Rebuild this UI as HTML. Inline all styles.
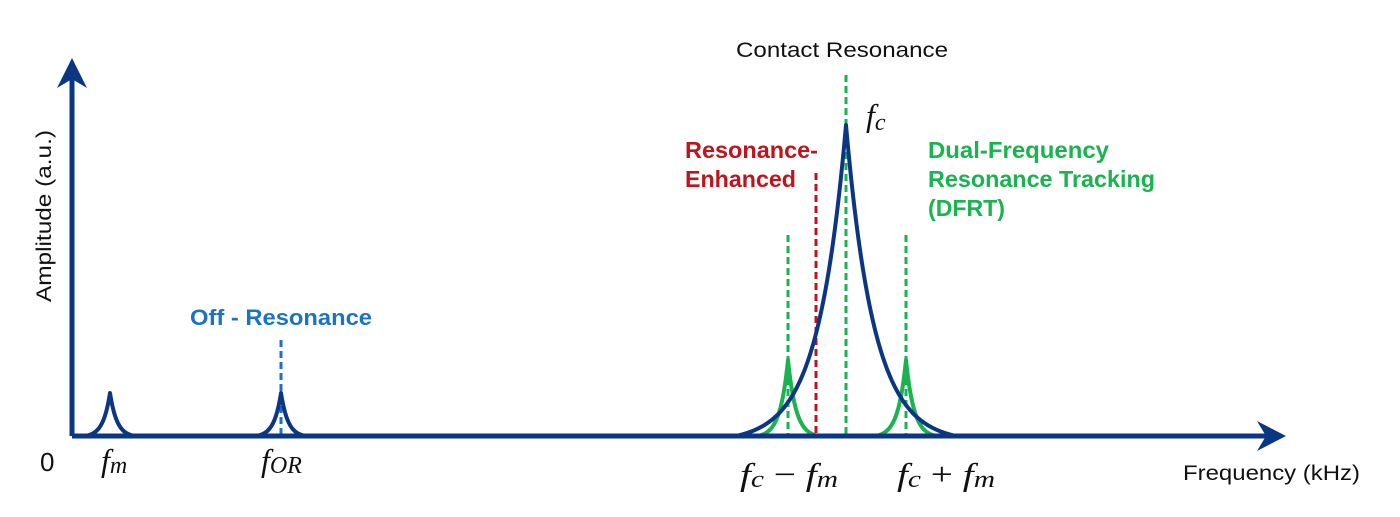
<!DOCTYPE html>
<html><head><meta charset="utf-8"><style>
html,body{margin:0;padding:0;background:#fff;width:1400px;height:517px;overflow:hidden}
svg text{font-family:"Liberation Sans",sans-serif}
.m{font-family:"Liberation Serif",serif;font-style:italic}
</style></head><body>
<svg id="s" width="1400" height="517" viewBox="0 0 1400 517" xmlns="http://www.w3.org/2000/svg">
<g fill="none" stroke-width="3" stroke-dasharray="7,4">
<line x1="281" y1="340" x2="281" y2="436" stroke="#1a73c4"/>
<line x1="846" y1="75" x2="846" y2="436" stroke="#19b34f"/>
<line x1="816" y1="173" x2="816" y2="436" stroke="#c0141c"/>
<line x1="788" y1="235" x2="788" y2="436" stroke="#19b34f"/>
<line x1="906" y1="235" x2="906" y2="436" stroke="#19b34f"/>
</g>
<g id="curves" fill="none" stroke-width="4" stroke-linejoin="round"></g>
<g stroke="#0a3683" stroke-width="5" fill="#0a3683">
<line x1="72" y1="436" x2="1270" y2="436"/>
<line x1="72" y1="436" x2="72" y2="75"/>
</g>
<polygon points="1286,436 1257,421 1266,436 1257,451" fill="#0a3683"/>
<polygon points="72,58 57,88 72,79 87,88" fill="#0a3683"/>
<text x="842" y="57" font-size="21" text-anchor="middle" fill="#111" textLength="212" lengthAdjust="spacingAndGlyphs">Contact Resonance</text>
<text x="866" y="126" font-size="32" class="m" fill="#111">f<tspan font-size="24" dy="4">c</tspan></text>
<text x="685" y="158" font-size="23" font-weight="bold" fill="#c0141c" textLength="133" lengthAdjust="spacingAndGlyphs">Resonance-</text>
<text x="685" y="187" font-size="23" font-weight="bold" fill="#c0141c" textLength="111" lengthAdjust="spacingAndGlyphs">Enhanced</text>
<text x="928" y="158" font-size="23" font-weight="bold" fill="#19b34f" textLength="181" lengthAdjust="spacingAndGlyphs">Dual-Frequency</text>
<text x="928" y="187" font-size="23" font-weight="bold" fill="#19b34f" textLength="227" lengthAdjust="spacingAndGlyphs">Resonance Tracking</text>
<text x="928" y="216" font-size="23" font-weight="bold" fill="#19b34f" textLength="77" lengthAdjust="spacingAndGlyphs">(DFRT)</text>
<text x="281" y="325" font-size="22" font-weight="bold" text-anchor="middle" fill="#1a73c4" textLength="182" lengthAdjust="spacingAndGlyphs">Off - Resonance</text>
<text transform="translate(51,216) rotate(-90)" font-size="21" text-anchor="middle" fill="#111" textLength="172" lengthAdjust="spacingAndGlyphs">Amplitude (a.u.)</text>
<text x="40" y="471" font-size="26" fill="#111">0</text>
<text x="101" y="471" font-size="32" class="m" fill="#111">f<tspan font-size="24" dy="2">m</tspan></text>
<text x="261" y="471" font-size="32" class="m" fill="#111">f<tspan font-size="24" dy="2">OR</tspan></text>
<text x="740" y="485" font-size="32" class="m" fill="#111" textLength="98" lengthAdjust="spacingAndGlyphs">f<tspan font-size="24" dy="2">c</tspan><tspan dy="-2" font-style="normal"> − </tspan>f<tspan font-size="24" dy="2">m</tspan></text>
<text x="897" y="485" font-size="32" class="m" fill="#111" textLength="98" lengthAdjust="spacingAndGlyphs">f<tspan font-size="24" dy="2">c</tspan><tspan dy="-2" font-style="normal"> + </tspan>f<tspan font-size="24" dy="2">m</tspan></text>
<text x="1183" y="480" font-size="21" fill="#111" textLength="177" lengthAdjust="spacingAndGlyphs">Frequency (kHz)</text>
</svg>
<script>
function peak(x0,h,g,span,color){
  var d="",e=Math.exp(-span/g);
  for(var x=x0-span;x<=x0+span;x+=0.5){
    var v=(Math.exp(-Math.abs(x-x0)/g)-e)/(1-e);
    var y=436-h*v;
    d+=(d?"L":"M")+x.toFixed(1)+","+y.toFixed(1);
  }
  var p=document.createElementNS("http://www.w3.org/2000/svg","path");
  p.setAttribute("d",d);p.setAttribute("stroke",color);
  document.getElementById("curves").appendChild(p);
}
peak(788,76,8,30,"#19b34f");
peak(906,76,8,30,"#19b34f");
peak(846,311,28,110,"#0a3683");
peak(110,43,7,25,"#0a3683");
peak(281,43,7,25,"#0a3683");
</script>
</body></html>
